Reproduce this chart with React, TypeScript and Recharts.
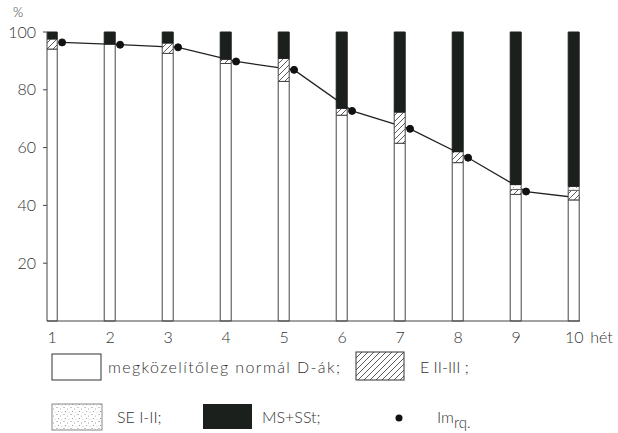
import React from 'react';
import { ComposedChart, Bar, Line, XAxis, YAxis } from 'recharts';

const weeks = [1, 2, 3, 4, 5, 6, 7, 8, 9, 10];
const normal = [94.1, 95.8, 92.6, 89.1, 82.9, 71.2, 61.5, 54.8, 43.8, 41.9];
const e23 = [3.5, 0, 3.6, 1.5, 8.0, 2.4, 10.8, 3.8, 1.7, 3.3];
const se12 = [0, 0, 0, 0, 0, 0, 0, 0, 1.7, 1.4];
const msSSt = [2.4, 4.2, 3.8, 9.4, 9.1, 26.4, 27.7, 41.4, 52.8, 53.4];
const imRq = [96.4, 95.6, 94.7, 89.8, 86.9, 72.7, 66.5, 56.5, 44.8, 42.4];
const yTicks = [20, 40, 60, 80, 100];

const data = weeks.map((w, i) => ({
  week: w,
  normal: normal[i],
  e23: e23[i],
  se12: se12[i],
  ms: msSSt[i],
  im: imRq[i]
}));

const FONT = "Lato, 'DejaVu Sans', sans-serif";
const INK = '#333';
const BLACK = '#1c201d';

const WeekTick = (props: any) => {
  const { x, y, payload } = props;
  const last = payload.value === weeks[weeks.length - 1];
  return (
    <g>
      <text x={x} y={y + 22} textAnchor="middle" fontSize={16} fontWeight={300} fontFamily={FONT} fill={INK}>
        {payload.value}
      </text>
      {last && (
        <text x={x + 16} y={y + 22} fontSize={16} fontWeight={300} fontFamily={FONT} fill={INK}>
          hét
        </text>
      )}
    </g>
  );
};

const Patterns = ({ prefix }: { prefix: string }) => (
  <defs>
    <pattern id={prefix + 'hatch'} width={6} height={6} patternUnits="userSpaceOnUse">
      <rect width={6} height={6} fill="#fff" />
      <path d="M0,6 L6,0 M-1.5,1.5 L1.5,-1.5 M4.5,7.5 L7.5,4.5" stroke="#333" strokeWidth={0.8} />
    </pattern>
    <pattern id={prefix + 'dots'} width={7} height={7} patternUnits="userSpaceOnUse">
      <rect width={7} height={7} fill="#fff" />
      <circle cx={1} cy={1.5} r={0.55} fill="#777" />
      <circle cx={4.5} cy={3} r={0.5} fill="#888" />
      <circle cx={2.5} cy={5.5} r={0.5} fill="#777" />
      <circle cx={6} cy={6.2} r={0.45} fill="#999" />
    </pattern>
  </defs>
);

const txt = { fontFamily: FONT, fontWeight: 300, fill: INK };

const LegendOverlay = () => (
  <svg
    width={618}
    height={433}
    style={{ position: 'absolute', left: 0, top: 0, pointerEvents: 'none' }}
  >
    <Patterns prefix="lg-" />
    <text x={13} y={17} fontSize={13} {...txt}>%</text>

    <rect x={52} y={354} width={49} height={26} fill="#fff" stroke="#333" strokeWidth={1} />
    <text x={108} y={373} fontSize={16} {...txt} textLength={232} lengthAdjust="spacing">
      megközelítőleg normál D-ák;
    </text>

    <rect x={356} y={352} width={48} height={28} fill="url(#lg-hatch)" stroke="#333" strokeWidth={1} />
    <text x={420} y={373} fontSize={16} {...txt}>E II-III ;</text>

    <rect x={52} y={404} width={50} height={26} fill="url(#lg-dots)" stroke="#888" strokeWidth={1} />
    <text x={117} y={423} fontSize={16} {...txt}>SE I-II;</text>

    <rect x={203} y={404} width={49} height={25} fill={BLACK} />
    <text x={262} y={423} fontSize={16} {...txt}>MS+SSt;</text>

    <circle cx={399} cy={418} r={3.5} fill="#111" />
    <text x={437} y={423} fontSize={16} {...txt}>
      Im<tspan dy={5} fontSize={15}>rq.</tspan>
    </text>
  </svg>
);

const App: React.FC = () => {
  return (
    <div style={{ position: 'absolute', left: 0, top: 0, width: 618, height: 433, background: '#fff' }}>
      <ComposedChart
        width={618}
        height={433}
        data={data}
        margin={{ top: 32, right: 38, bottom: 82, left: 7 }}
      >
        <Patterns prefix="ch-" />
        <XAxis
          xAxisId="bars"
          dataKey="week"
          type="number"
          domain={[0.91, 10.1]}
          ticks={weeks}
          allowDataOverflow
          height={30}
          tickLine={false}
          tickSize={0}
          tickMargin={0}
          axisLine={{ stroke: '#444' }}
          tick={<WeekTick />}
        />
        <XAxis xAxisId="im" dataKey="week" type="number" domain={[0.74, 9.93]} allowDataOverflow hide />
        <YAxis
          type="number"
          domain={[0, 100]}
          ticks={yTicks}
          width={40}
          tickSize={4}
          tickMargin={7}
          axisLine={{ stroke: '#444' }}
          tickLine={{ stroke: '#444' }}
          tick={{ fontSize: 16, fontFamily: FONT, fontWeight: 300, fill: INK }}
        />
        <Line
          xAxisId="im"
          dataKey="im"
          type="linear"
          stroke="#222"
          strokeWidth={1.3}
          dot={{ r: 3.5, fill: '#111', stroke: '#111', strokeWidth: 1 }}
          activeDot={false}
          isAnimationActive={false}
          zIndex={0}
        />
        <Bar xAxisId="bars" dataKey="normal" stackId="a" barSize={11} fill="#fff" stroke="#444" strokeWidth={1} isAnimationActive={false} />
        <Bar xAxisId="bars" dataKey="e23" stackId="a" barSize={11} fill="url(#ch-hatch)" stroke="#444" strokeWidth={1} isAnimationActive={false} />
        <Bar xAxisId="bars" dataKey="se12" stackId="a" barSize={11} fill="url(#ch-dots)" stroke="#666" strokeWidth={1} isAnimationActive={false} />
        <Bar xAxisId="bars" dataKey="ms" stackId="a" barSize={11} fill={BLACK} stroke={BLACK} strokeWidth={1} isAnimationActive={false} />
      </ComposedChart>
      <LegendOverlay />
    </div>
  );
};

export default App;
